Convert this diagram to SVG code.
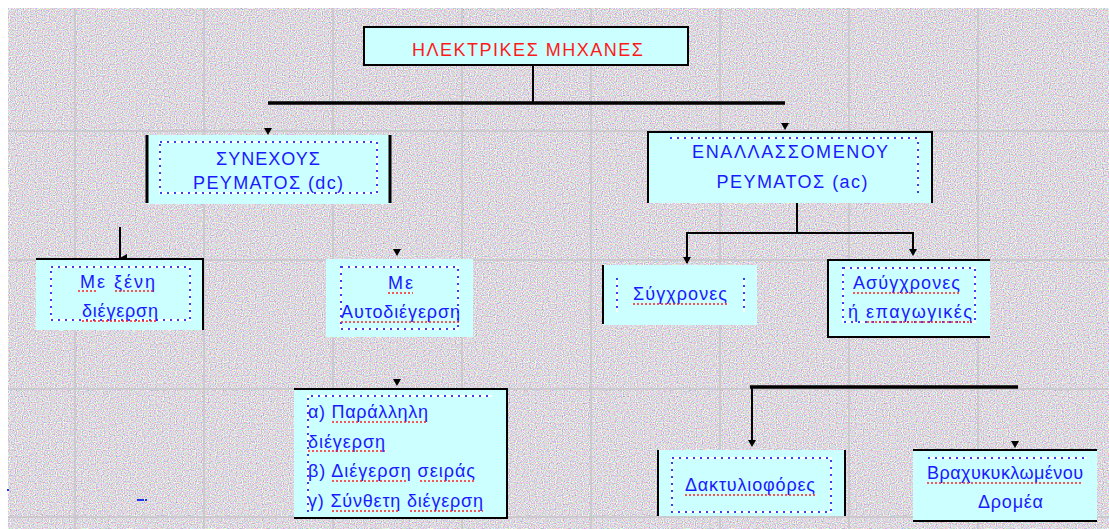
<svg xmlns="http://www.w3.org/2000/svg" xmlns:xlink="http://www.w3.org/1999/xlink" width="1109" height="529" viewBox="0 0 1109 529">
<defs>
<filter id="noise" x="0" y="0" width="100%" height="100%" color-interpolation-filters="sRGB">
<feTurbulence type="fractalNoise" baseFrequency="0.85" numOctaves="1" seed="7" result="n"/>
<feColorMatrix in="n" type="matrix" values="0.85 0 0 0 0.44  0 0.85 0 0 0.42  0 0 0.85 0 0.45  0 0 0 0 1"/>
</filter>
<path id="ah" d="M-4,-7 L4,-7 L0,0 Z" fill="#000"/>
<marker id="arr" viewBox="0 0 8 7" refX="4" refY="7" markerWidth="8" markerHeight="7" markerUnits="userSpaceOnUse" orient="auto-start-reverse">
<path d="M0,0 L8,0 L4,7 Z" fill="#000"/>
</marker>
<style>
.box{fill:#ccffff;stroke:none}
.bd{stroke:#000;stroke-width:2;fill:none}
.dw{fill:none;stroke:#fff;stroke-width:2}
.db{fill:none;stroke:#3344ee;stroke-width:2;stroke-dasharray:2 5}
.t{font-family:"Liberation Sans",Arial,sans-serif;font-size:18px;fill:#1a1aff;text-anchor:middle}
.ts{font-family:"Liberation Sans",Arial,sans-serif;font-size:18px;fill:#1a1aff;text-anchor:start}
.tr{font-family:"Liberation Sans",Arial,sans-serif;font-size:18px;fill:#ff1a1a;text-anchor:start}
.ul{stroke:#ff2020;stroke-width:1.5;stroke-dasharray:2 2;fill:none}
.ln{stroke:#000;stroke-width:2;fill:none}
.lt{stroke:#000;stroke-width:3.5;fill:none}
.grid{stroke:#c6c4c8;stroke-width:1.5}
</style>
</defs>
<rect width="1109" height="529" fill="#fff"/>
<rect x="8" y="8" width="1101" height="521" fill="#ddd8dd" filter="url(#noise)"/>
<g id="grid">
<line class="grid" x1="75" y1="8" x2="75" y2="529"/>
<line class="grid" x1="204" y1="8" x2="204" y2="529"/>
<line class="grid" x1="333" y1="8" x2="333" y2="529"/>
<line class="grid" x1="462" y1="8" x2="462" y2="529"/>
<line class="grid" x1="591" y1="8" x2="591" y2="529"/>
<line class="grid" x1="720" y1="8" x2="720" y2="529"/>
<line class="grid" x1="849" y1="8" x2="849" y2="529"/>
<line class="grid" x1="978" y1="8" x2="978" y2="529"/>
<line class="grid" x1="8" y1="131" x2="1109" y2="131"/>
<line class="grid" x1="8" y1="260" x2="1109" y2="260"/>
<line class="grid" x1="8" y1="389" x2="1109" y2="389"/>
<line class="grid" x1="8" y1="517" x2="1109" y2="517"/>
</g>
<g id="connectors">
<line class="ln" x1="533" y1="65" x2="533" y2="103"/>
<line class="lt" x1="268" y1="103" x2="785" y2="103"/>
<use xlink:href="#ah" x="268" y="135"/>
<use xlink:href="#ah" x="785" y="130"/>
<line class="ln" x1="120" y1="227" x2="120" y2="258" marker-end="url(#arr)"/>
<use xlink:href="#ah" x="397" y="256"/>
<line class="ln" x1="797" y1="203" x2="797" y2="233"/>
<polyline class="ln" points="687,263 687,233 913,233 913,250"/>
<use xlink:href="#ah" x="687" y="264"/>
<use xlink:href="#ah" x="913" y="256"/>
<use xlink:href="#ah" x="397" y="386"/>
<line class="lt" x1="750" y1="387" x2="1018" y2="387"/>
<line class="ln" x1="752" y1="387" x2="752" y2="440"/>
<use xlink:href="#ah" x="752" y="447"/>
<use xlink:href="#ah" x="1015" y="448"/>
</g>
<g id="n-title">
<rect class="box" x="364" y="27" width="324" height="38"/>
<rect class="bd" x="364" y="27" width="324" height="38"/>
<text class="tr" x="412" y="56" textLength="231" lengthAdjust="spacing">ΗΛΕΚΤΡΙΚΕΣ ΜΗΧΑΝΕΣ</text>
</g>
<g id="n-dc">
<rect class="box" x="147" y="135" width="243" height="69"/>
<line class="lt" x1="147" y1="135" x2="147" y2="203" style="stroke-width:3"/>
<line class="lt" x1="390" y1="135" x2="390" y2="203" style="stroke-width:3"/>
<rect class="dw" x="160" y="142" width="217" height="51"/>
<rect class="db" x="160" y="142" width="217" height="51"/>
<text class="t" x="268" y="165" textLength="104" lengthAdjust="spacing">ΣΥΝΕΧΟΥΣ</text>
<text class="t" x="268" y="189" textLength="150" lengthAdjust="spacing">ΡΕΥΜΑΤΟΣ (dc)</text>
</g>
<g id="n-ac">
<rect class="box" x="648" y="132" width="284" height="71"/>
<polyline class="bd" points="648,203 648,132 932,132 932,203"/>
<polyline class="dw" points="670,138 918,138 918,193"/>
<polyline class="db" points="670,138 918,138 918,193"/>
<text class="t" x="790" y="158" textLength="196" lengthAdjust="spacing">ΕΝΑΛΛΑΣΣΟΜΕΝΟΥ</text>
<text class="t" x="792" y="188" textLength="151" lengthAdjust="spacing">ΡΕΥΜΑΤΟΣ (ac)</text>
</g>
<g id="n-xeni">
<rect class="box" x="36" y="259" width="167" height="71"/>
<polyline class="bd" points="36,259 203,259 203,330"/>
<rect class="dw" x="51" y="267" width="139" height="53"/>
<rect class="db" x="51" y="267" width="139" height="53"/>
<text class="t" x="117.5" y="288" textLength="75" lengthAdjust="spacing">Με ξένη</text>
<text class="t" x="120" y="317" textLength="76" lengthAdjust="spacing">διέγερση</text>
<line class="ul" x1="78" y1="291" x2="98" y2="291"/>
<line class="ul" x1="115" y1="291" x2="155" y2="291"/>
<line class="ul" x1="82" y1="321" x2="158" y2="321"/>
</g>
<g id="n-auto">
<rect class="box" x="326" y="259" width="147" height="78"/>
<rect class="dw" x="341" y="267" width="117" height="62"/>
<rect class="db" x="341" y="267" width="117" height="62"/>
<text class="t" x="400.5" y="289" textLength="25" lengthAdjust="spacing">Με</text>
<text class="t" x="400.5" y="318" textLength="119" lengthAdjust="spacing">Αυτοδιέγερση</text>
<line class="ul" x1="388" y1="293" x2="413" y2="293"/>
<line class="ul" x1="341" y1="322" x2="460" y2="322"/>
</g>
<g id="n-sync">
<rect class="box" x="603" y="265" width="154" height="60"/>
<line class="bd" x1="603" y1="265" x2="603" y2="324"/>
<line class="dw" x1="617" y1="278" x2="617" y2="312"/>
<line class="db" x1="617" y1="278" x2="617" y2="312"/>
<line class="dw" x1="744" y1="278" x2="744" y2="312"/>
<line class="db" x1="744" y1="278" x2="744" y2="312"/>
<text class="t" x="680" y="300" textLength="94" lengthAdjust="spacing">Σύγχρονες</text>
<line class="ul" x1="633" y1="304" x2="727" y2="304"/>
</g>
<g id="n-async">
<rect class="box" x="828" y="260" width="162" height="77"/>
<polyline class="bd" points="990,260 828,260 828,337 990,337"/>
<rect class="dw" x="843" y="268" width="132" height="54"/>
<rect class="db" x="843" y="268" width="132" height="54"/>
<text class="t" x="906.5" y="289" textLength="107" lengthAdjust="spacing">Ασύγχρονες</text>
<text class="t" x="910" y="318" textLength="124" lengthAdjust="spacing">ή επαγωγικές</text>
<line class="ul" x1="853" y1="293" x2="960" y2="293"/>
<line class="ul" x1="867" y1="322" x2="972" y2="322"/>
</g>
<g id="n-types">
<rect class="box" x="294" y="389" width="213" height="129"/>
<polyline class="bd" points="294,389 507,389 507,518 294,518"/>
<polyline class="dw" points="308,512 308,396 492,396"/>
<polyline class="db" points="308,512 308,396 492,396"/>
<text class="ts" x="308" y="418" textLength="120" lengthAdjust="spacing">α) Παράλληλη</text>
<text class="ts" x="308" y="448" textLength="77" lengthAdjust="spacing">διέγερση</text>
<text class="ts" x="308" y="477" textLength="167" lengthAdjust="spacing">β) Διέγερση σειράς</text>
<text class="ts" x="308" y="507" textLength="175" lengthAdjust="spacing">γ) Σύνθετη διέγερση</text>
<line class="ul" x1="332" y1="422" x2="428" y2="422"/>
<line class="ul" x1="308" y1="451" x2="385" y2="451"/>
<line class="ul" x1="332" y1="481" x2="408" y2="481"/>
<line class="ul" x1="420" y1="481" x2="475" y2="481"/>
<line class="ul" x1="332" y1="511" x2="400" y2="511"/>
<line class="ul" x1="410" y1="511" x2="483" y2="511"/>
</g>
<g id="n-dakt">
<rect class="box" x="658" y="450" width="187" height="66"/>
<line class="bd" x1="658" y1="450" x2="658" y2="516"/>
<line class="bd" x1="845" y1="450" x2="845" y2="516"/>
<rect class="dw" x="672" y="458" width="159" height="54"/>
<rect class="db" x="672" y="458" width="159" height="54"/>
<text class="t" x="750" y="491" textLength="130" lengthAdjust="spacing">Δακτυλιοφόρες</text>
<line class="ul" x1="685" y1="495" x2="815" y2="495"/>
</g>
<g id="n-brax">
<rect class="box" x="913" y="450" width="184" height="71"/>
<line class="bd" x1="913" y1="450" x2="1097" y2="450"/>
<line class="bd" x1="913" y1="521" x2="1097" y2="521"/>
<line class="dw" x1="928" y1="458" x2="1087" y2="458"/>
<line class="db" x1="928" y1="458" x2="1087" y2="458"/>
<text class="t" x="1005" y="479" textLength="156" lengthAdjust="spacing">Βραχυκυκλωμένου</text>
<text class="t" x="1010.5" y="508" textLength="65" lengthAdjust="spacing">Δρομέα</text>
<line class="ul" x1="927" y1="483" x2="1083" y2="483"/>
</g>
<g id="marks">
<rect x="7" y="489" width="2" height="2" fill="#2233ee"/>
<rect x="137" y="499" width="7" height="2" fill="#2233ee"/>
<rect x="145" y="499" width="2" height="2" fill="#2233ee"/>
</g>
</svg>
